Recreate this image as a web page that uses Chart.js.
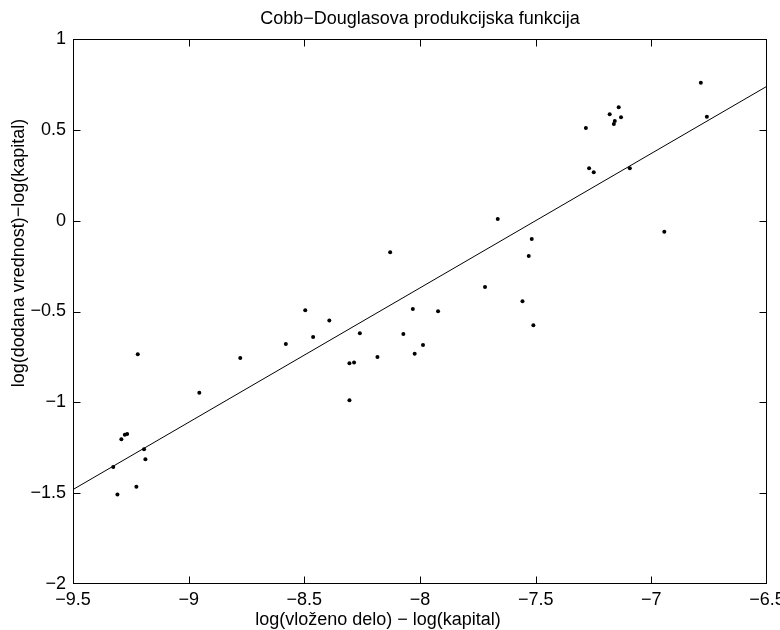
<!DOCTYPE html>
<html>
<head>
<meta charset="utf-8">
<script src="https://cdn.jsdelivr.net/npm/chart.js@4.4.1/dist/chart.umd.min.js"></script>
<style>
  html, body { margin: 0; padding: 0; background: #fff; overflow: hidden; }
  #wrap { width: 780px; height: 630px; }
</style>
</head>
<body>
<div id="wrap"><canvas id="cobb"></canvas></div>
<script>
// log(L) - log(K) za vsako opazovanje
const labX = [-9.220, -8.954, -9.291, -9.276, -9.266, -9.193, -9.187, -9.326, -9.226, -9.308,
    -8.777, -8.580, -8.462, -8.496, -8.392, -8.260, -8.305, -8.285, -8.305, -8.184,
    -8.129, -8.072, -8.031, -8.023, -7.987, -7.922, -7.719, -7.557, -7.530, -7.517,
    -7.510, -7.664, -6.786, -6.760, -7.141, -7.180, -7.131, -7.158, -7.162, -7.283,
    -7.269, -7.249, -7.093, -6.944];
// log(Y) - log(K)
const valY = [-0.735, -0.947, -1.203, -1.179, -1.174, -1.258, -1.313, -1.356, -1.464, -1.508,
    -0.756, -0.679, -0.640, -0.493, -0.550, -0.620, -0.785, -0.781, -0.988, -0.750,
    -0.174, -0.624, -0.486, -0.732, -0.684, -0.499, -0.365, -0.444, -0.194, -0.101,
    -0.576, 0.009, 0.759, 0.572, 0.624, 0.586, 0.569, 0.549, 0.532, 0.510,
    0.288, 0.266, 0.288, -0.061];

// premica regresije
const fitX = [-9.5, -6.5];
const fitY = [-1.48, 0.74];

const xTicks = [-9.5, -9, -8.5, -8, -7.5, -7, -6.5];
const yTicks = [-2, -1.5, -1, -0.5, 0, 0.5, 1];

const FONT = '"Liberation Sans", Arial, Helvetica, sans-serif';

function minus(v) {
    return String(v).replace('-', '\u2212');
}

// okvir z notranjimi oznakami (kot v Matlabu) in napisi
const boxPlugin = {
    id: 'matlabBox',
    afterDraw(chart) {
        const ctx = chart.ctx;
        const x = chart.scales.x, y = chart.scales.y;
        const L = Math.round(x.getPixelForValue(x.min)) + 0.5;
        const R = Math.round(x.getPixelForValue(x.max)) - 0.5;
        const T = Math.round(y.getPixelForValue(y.max)) + 0.5;
        const B = Math.round(y.getPixelForValue(y.min)) - 0.5;
        const clamp = (v, lo, hi) => Math.min(Math.max(v, lo), hi);
        const len = 7;
        ctx.save();
        ctx.strokeStyle = '#000';
        ctx.lineWidth = 1;
        ctx.strokeRect(L, T, R - L, B - T);
        ctx.beginPath();
        x.ticks.forEach(t => {
            const px = clamp(Math.round(x.getPixelForValue(t.value)) + 0.5, L, R);
            ctx.moveTo(px, B); ctx.lineTo(px, B - len);
            ctx.moveTo(px, T); ctx.lineTo(px, T + len);
        });
        y.ticks.forEach(t => {
            const py = clamp(Math.round(y.getPixelForValue(t.value)) + 0.5, T, B);
            ctx.moveTo(L, py); ctx.lineTo(L + len, py);
            ctx.moveTo(R, py); ctx.lineTo(R - len, py);
        });
        ctx.stroke();

        ctx.fillStyle = '#000';
        ctx.textAlign = 'center';
        ctx.textBaseline = 'alphabetic';
        ctx.font = '18px ' + FONT;
        ctx.fillText('Cobb\u2212Douglasova produkcijska funkcija', (L + R) / 2, 24);
        ctx.fillText('log(vloženo delo) \u2212 log(kapital)', 378, 625);
        ctx.translate(24, 253);
        ctx.rotate(-Math.PI / 2);
        ctx.fillText('log(dodana vrednost)\u2212log(kapital)', 0, 0);
        ctx.restore();
    }
};

const ctx = document.getElementById('cobb').getContext('2d');
const chart = new Chart(ctx, {
    type: 'scatter',
    data: {
        datasets: [{
            data: labX.map((v, i) => ({ x: v, y: valY[i] })),
            backgroundColor: '#000',
            borderWidth: 0,
            pointRadius: 2,
            pointHoverRadius: 2
        }, {
            data: fitX.map((v, i) => ({ x: v, y: fitY[i] })),
            showLine: true,
            borderColor: '#000',
            borderWidth: 1,
            pointRadius: 0
        }]
    },
    options: {
        responsive: true,
        maintainAspectRatio: false,
        animation: false,
        layout: { padding: { top: 39, right: 13, left: 0, bottom: 0 } },
        plugins: {
            legend: { display: false },
            tooltip: { enabled: false },
            title: { display: false }
        },
        scales: {
            x: {
                type: 'linear',
                min: -9.5,
                max: -6.5,
                afterBuildTicks: s => { s.ticks = xTicks.map(v => ({ value: v })); },
                afterFit: s => { s.height = 46; s.paddingLeft = 0; s.paddingRight = 0; },
                grid: { display: false, drawTicks: false },
                border: { display: false },
                ticks: {
                    color: '#000',
                    padding: 5,
                    maxRotation: 0,
                    font: { family: FONT, size: 18 },
                    callback: v => minus(v)
                }
            },
            y: {
                type: 'linear',
                min: -2,
                max: 1,
                afterBuildTicks: s => { s.ticks = yTicks.map(v => ({ value: v })); },
                afterFit: s => { s.width = 73; s.paddingTop = 0; s.paddingBottom = 0; },
                grid: { display: false, drawTicks: false },
                border: { display: false },
                ticks: {
                    color: '#000',
                    padding: 7,
                    font: { family: FONT, size: 18 },
                    callback: v => minus(v)
                }
            }
        }
    },
    plugins: [boxPlugin]
});
</script>
</body>
</html>
